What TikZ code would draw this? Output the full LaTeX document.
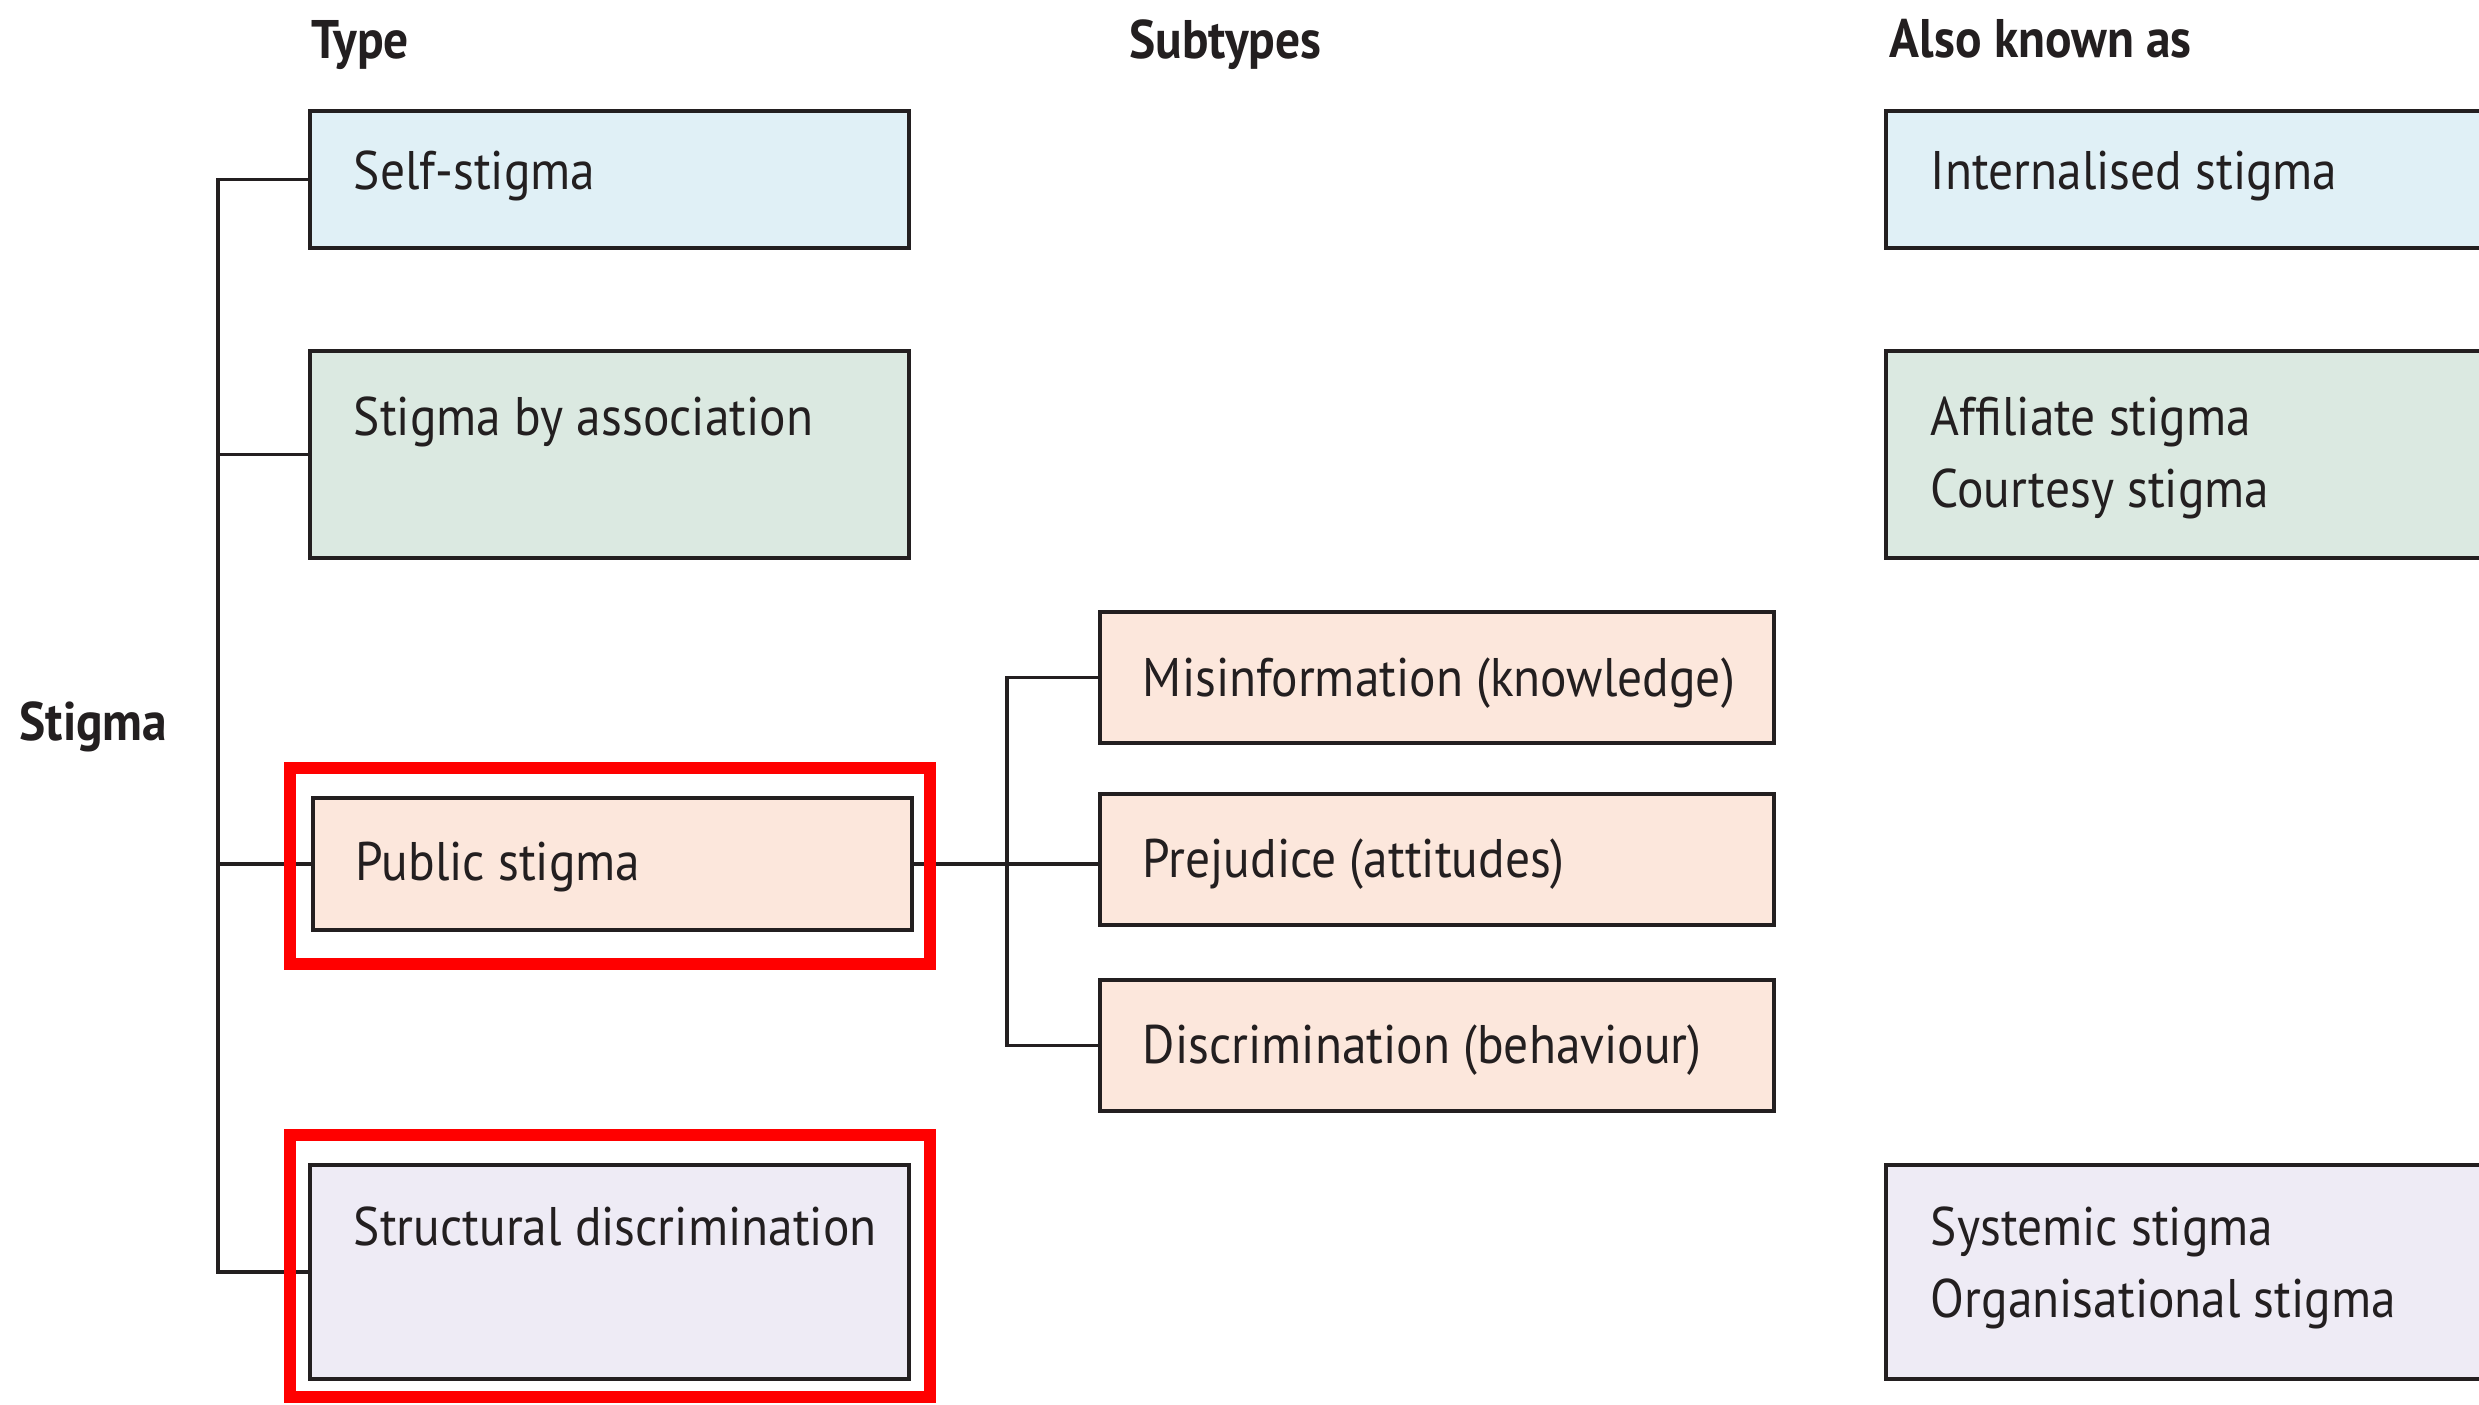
\documentclass[tikz,border=0pt]{standalone}
\usepackage{fontspec}
\setmainfont{PT Sans}[FakeStretch=0.91]
\usetikzlibrary{fit}
\definecolor{ink}{HTML}{231F20}
\definecolor{cblue}{HTML}{E0F0F6}
\definecolor{cgreen}{HTML}{DBE9E1}
\definecolor{cpeach}{HTML}{FCE7DC}
\definecolor{clilac}{HTML}{EEEBF5}
\definecolor{hlred}{HTML}{FF0000}
\begin{document}
\begin{tikzpicture}[x=0.3pt,y=-0.3pt,
  box/.style={draw=ink, line width=1.05pt, inner sep=0pt},
  txt/.style={anchor=base west, inner sep=0pt, text=ink, font=\fontsize{16.3}{19}\selectfont},
  head/.style={txt, font=\fontsize{16.3}{19}\selectfont\bfseries},
  conn/.style={draw=ink, line width=1pt},
  hl/.style={draw=hlred, line width=3.6pt, inner sep=0pt}]
\clip (0,0) rectangle (2479,1405);
\fill[white] (0,0) rectangle (2479,1405);

% headers
\node[head] (htype) at (311,59) {Type};
\node[head] (hsub) at (1129,59) {Subtypes};
\node[head] (haka) at (1889,57) {Also known as};
\node[head] (hstigma) at (19,740) {Stigma};

% boxes
\node[box, fill=cblue,  fit={(310,111) (909,248)}] (self) {};
\node[box, fill=cgreen, fit={(310,351) (909,558)}] (sba) {};
\node[box, fill=cpeach, fit={(313,798) (912,930)}] (pub) {};
\node[box, fill=clilac, fit={(310,1165) (909,1379)}] (struct) {};
\node[box, fill=cpeach, fit={(1100,612) (1774,743)}] (mis) {};
\node[box, fill=cpeach, fit={(1100,794) (1774,925)}] (prej) {};
\node[box, fill=cpeach, fit={(1100,980) (1774,1111)}] (disc) {};
\node[box, fill=cblue,  fit={(1886,111) (2560,248)}] (internal) {};
\node[box, fill=cgreen, fit={(1886,351) (2560,558)}] (affil) {};
\node[box, fill=clilac, fit={(1886,1165) (2560,1379)}] (systemic) {};

% box texts
\node[txt] (tself) at ([shift={(45,80)}]self.north west) {Self-stigma};
\node[txt] (tsba) at ([shift={(45,86)}]sba.north west) {Stigma by association};
\node[txt] (tpub) at ([shift={(44,84)}]pub.north west) {Public stigma};
\node[txt] (tstruct) at ([shift={(45,82)}]struct.north west) {Structural discrimination};
\node[txt] (tmis) at ([shift={(44,86)}]mis.north west) {Misinformation (knowledge)};
\node[txt] (tprej) at ([shift={(44,85)}]prej.north west) {Prejudice (attitudes)};
\node[txt] (tdisc) at ([shift={(44,85)}]disc.north west) {Discrimination (behaviour)};
\node[txt] (tint) at ([shift={(46,80)}]internal.north west) {Internalised stigma};
\node[txt] (taff1) at ([shift={(46,86)}]affil.north west) {Affiliate stigma};
\node[txt] (taff2) at ([shift={(46,158)}]affil.north west) {Courtesy stigma};
\node[txt] (tsys1) at ([shift={(46,82)}]systemic.north west) {Systemic stigma};
\node[txt] (tsys2) at ([shift={(46,154)}]systemic.north west) {Organisational stigma};

% connectors
\coordinate (tx) at (218,0);
\coordinate (sx) at (1007,0);
\draw[conn] (self.west) -- (self.west -| tx) |- (struct.west);
\draw[conn] (sba.west) -- (sba.west -| tx);
\draw[conn] (pub.west) -- (pub.west -| tx);
\draw[conn] (pub.east) -- (pub.east -| prej.west);
\draw[conn] (mis.west) -- (mis.west -| sx) |- (disc.west);

% highlight frames
\node[hl, fit={(290,768) (930,964)}] (hlpub) {};
\node[hl, fit={(290,1135) (930,1397)}] (hlstruct) {};
\end{tikzpicture}
\end{document}
